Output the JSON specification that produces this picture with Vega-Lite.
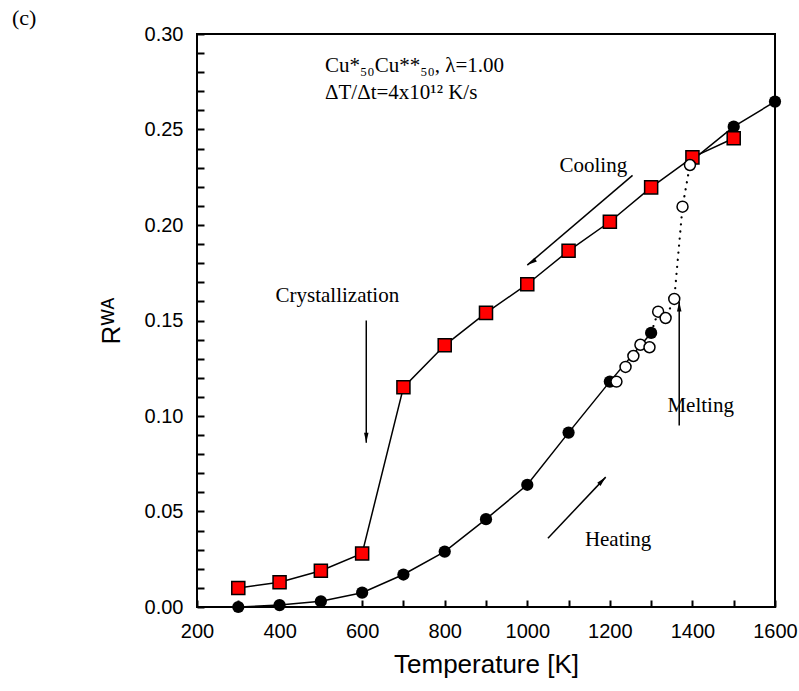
{
  "$schema": "https://vega.github.io/schema/vega-lite/v6.json",
  "width": 578,
  "height": 573,
  "autosize": "none",
  "padding": {"left": 197, "top": 34, "right": 24, "bottom": 84},
  "background": "white",
  "title": {"text": "(c)", "anchor": "start", "frame": "group", "font": "Liberation Serif", "fontSize": 22, "fontWeight": "normal", "color": "black", "dx": -185, "dy": 10, "offset": 4},
  "config": {
    "view": {"stroke": "black", "strokeWidth": 2},
    "axis": {"domain": false, "grid": false, "ticks": true, "tickColor": "black", "tickOpacity": 1, "tickWidth": 2, "tickSize": -7, "labelFont": "Liberation Sans", "labelFontSize": 20, "labelColor": "black", "titleFont": "Liberation Sans", "titleFontSize": 26, "titleFontWeight": "normal", "titleColor": "black", "labelFlush": false, "labelOverlap": false, "labelPadding": 21}
  },
  "datasets": {
    "pts": [
      {"s": "cool", "T": 300, "R": 0.010}, {"s": "cool", "T": 400, "R": 0.013}, {"s": "cool", "T": 500, "R": 0.019}, {"s": "cool", "T": 600, "R": 0.028},
      {"s": "cool", "T": 700, "R": 0.115}, {"s": "cool", "T": 800, "R": 0.137}, {"s": "cool", "T": 900, "R": 0.154}, {"s": "cool", "T": 1000, "R": 0.169},
      {"s": "cool", "T": 1100, "R": 0.1865}, {"s": "cool", "T": 1200, "R": 0.2017}, {"s": "cool", "T": 1300, "R": 0.2197}, {"s": "cool", "T": 1400, "R": 0.2354}, {"s": "cool", "T": 1500, "R": 0.2454},
      {"s": "heat", "T": 300, "R": 0.000}, {"s": "heat", "T": 400, "R": 0.001}, {"s": "heat", "T": 500, "R": 0.003}, {"s": "heat", "T": 600, "R": 0.0075},
      {"s": "heat", "T": 700, "R": 0.017}, {"s": "heat", "T": 800, "R": 0.029}, {"s": "heat", "T": 900, "R": 0.046}, {"s": "heat", "T": 1000, "R": 0.064},
      {"s": "heat", "T": 1100, "R": 0.0913}, {"s": "heat", "T": 1200, "R": 0.118}, {"s": "heat", "T": 1300, "R": 0.1435},
      {"s": "hot", "T": 1500, "R": 0.2515}, {"s": "hot", "T": 1600, "R": 0.2646},
      {"s": "hotline", "T": 1400, "R": 0.234}, {"s": "hotline", "T": 1500, "R": 0.2515}, {"s": "hotline", "T": 1600, "R": 0.2646},
      {"s": "open", "T": 1216, "R": 0.118}, {"s": "open", "T": 1238, "R": 0.1257}, {"s": "open", "T": 1257, "R": 0.1314}, {"s": "open", "T": 1274, "R": 0.1373},
      {"s": "open", "T": 1296, "R": 0.136}, {"s": "open", "T": 1317, "R": 0.1546}, {"s": "open", "T": 1335, "R": 0.1513}, {"s": "open", "T": 1356, "R": 0.1613},
      {"s": "open", "T": 1376, "R": 0.2096}, {"s": "open", "T": 1394, "R": 0.2314},
      {"s": "dot", "T": 1300, "R": 0.1435}, {"s": "dot", "T": 1317, "R": 0.1546}, {"s": "dot", "T": 1335, "R": 0.1513}, {"s": "dot", "T": 1356, "R": 0.1613},
      {"s": "dot", "T": 1376, "R": 0.2096}, {"s": "dot", "T": 1394, "R": 0.2314}
    ],
    "notes": [
      {"k": "left", "T": 510, "R": 0.283, "label": "Cu*₅₀Cu**₅₀, λ=1.00"},
      {"k": "left", "T": 510, "R": 0.269, "label": "ΔT/Δt=4x10¹² K/s"},
      {"k": "center", "T": 540, "R": 0.163, "label": "Crystallization"},
      {"k": "center", "T": 1160, "R": 0.231, "label": "Cooling"},
      {"k": "center", "T": 1220, "R": 0.035, "label": "Heating"},
      {"k": "center", "T": 1420, "R": 0.105, "label": "Melting"}
    ],
    "arrows": [
      {"a": "cryst", "T": 610, "R": 0.150, "T2": 610, "R2": 0.086},
      {"a": "cool", "T": 1255, "R": 0.226, "T2": 1000, "R2": 0.179},
      {"a": "heat", "T": 1050, "R": 0.036, "T2": 1190, "R2": 0.068},
      {"a": "melt", "T": 1368, "R": 0.095, "T2": 1368, "R2": 0.160}
    ]
  },
  "encoding": {
    "x": {"field": "T", "type": "quantitative", "scale": {"domain": [200, 1600], "nice": false, "zero": false},
      "axis": {"title": "Temperature [K]", "values": [200, 300, 400, 500, 600, 700, 800, 900, 1000, 1100, 1200, 1300, 1400, 1500, 1600],
        "labelExpr": "datum.value % 200 === 0 ? format(datum.value, 'd') : ''",
        "titlePadding": 10}},
    "y": {"field": "R", "type": "quantitative", "scale": {"domain": [0, 0.3], "nice": false, "zero": false},
      "axis": {"title": "Rᵂᴬ", "values": [0, 0.01, 0.02, 0.03, 0.04, 0.05, 0.06, 0.07, 0.08, 0.09, 0.1, 0.11, 0.12, 0.13, 0.14, 0.15, 0.16, 0.17, 0.18, 0.19, 0.2, 0.21, 0.22, 0.23, 0.24, 0.25, 0.26, 0.27, 0.28, 0.29, 0.3],
        "labelExpr": "round(datum.value*100) % 5 === 0 ? format(datum.value, '.2f') : ''",
        "titlePadding": 20}}
  },
  "layer": [
    {"data": {"name": "pts"}, "transform": [{"filter": "datum.s === 'cool'"}], "mark": {"type": "line", "color": "black", "strokeWidth": 1.5}},
    {"data": {"name": "pts"}, "transform": [{"filter": "datum.s === 'heat'"}], "mark": {"type": "line", "color": "black", "strokeWidth": 1.5}},
    {"data": {"name": "pts"}, "transform": [{"filter": "datum.s === 'hotline'"}], "mark": {"type": "line", "color": "black", "strokeWidth": 1.5}},
    {"data": {"name": "pts"}, "transform": [{"filter": "datum.s === 'dot'"}], "mark": {"type": "line", "color": "black", "strokeWidth": 2.2, "strokeDash": [0.1, 7], "strokeCap": "round"}},
    {"data": {"name": "pts"}, "transform": [{"filter": "datum.s === 'heat' || datum.s === 'hot'"}], "mark": {"type": "point", "shape": "circle", "filled": true, "color": "black", "size": 150, "opacity": 1}},
    {"data": {"name": "pts"}, "transform": [{"filter": "datum.s === 'cool'"}], "mark": {"type": "point", "shape": "square", "filled": true, "fill": "#ff0000", "stroke": "black", "strokeWidth": 1.5, "size": 170, "opacity": 1}},
    {"data": {"name": "pts"}, "transform": [{"filter": "datum.s === 'open'"}], "mark": {"type": "point", "shape": "circle", "filled": true, "fill": "white", "stroke": "black", "strokeWidth": 1.5, "size": 120, "opacity": 1}},
    {"data": {"name": "arrows"}, "mark": {"type": "rule", "color": "black", "strokeWidth": 1.5},
      "encoding": {"x2": {"field": "T2"}, "y2": {"field": "R2"}}},
    {"data": {"name": "arrows"}, "transform": [{"filter": "datum.a === 'cryst'"}], "mark": {"type": "point", "shape": "M0,0L-0.45,2L0.45,2Z", "filled": true, "color": "black", "size": 100, "opacity": 1, "angle": 180},
      "encoding": {"x": {"field": "T2", "type": "quantitative"}, "y": {"field": "R2", "type": "quantitative"}}},
    {"data": {"name": "arrows"}, "transform": [{"filter": "datum.a === 'cool'"}], "mark": {"type": "point", "shape": "M0,0L-0.45,2L0.45,2Z", "filled": true, "color": "black", "size": 100, "opacity": 1, "angle": 237},
      "encoding": {"x": {"field": "T2", "type": "quantitative"}, "y": {"field": "R2", "type": "quantitative"}}},
    {"data": {"name": "arrows"}, "transform": [{"filter": "datum.a === 'heat'"}], "mark": {"type": "point", "shape": "M0,0L-0.45,2L0.45,2Z", "filled": true, "color": "black", "size": 100, "opacity": 1, "angle": 43.3},
      "encoding": {"x": {"field": "T2", "type": "quantitative"}, "y": {"field": "R2", "type": "quantitative"}}},
    {"data": {"name": "arrows"}, "transform": [{"filter": "datum.a === 'melt'"}], "mark": {"type": "point", "shape": "M0,0L-0.45,2L0.45,2Z", "filled": true, "color": "black", "size": 100, "opacity": 1, "angle": 0},
      "encoding": {"x": {"field": "T2", "type": "quantitative"}, "y": {"field": "R2", "type": "quantitative"}}},
    {"data": {"name": "notes"}, "transform": [{"filter": "datum.k === 'left'"}], "mark": {"type": "text", "font": "Liberation Serif", "fontSize": 21, "align": "left", "baseline": "middle", "color": "black"},
      "encoding": {"text": {"field": "label"}}},
    {"data": {"name": "notes"}, "transform": [{"filter": "datum.k === 'center'"}], "mark": {"type": "text", "font": "Liberation Serif", "fontSize": 21, "align": "center", "baseline": "middle", "color": "black"},
      "encoding": {"text": {"field": "label"}}}
  ]
}
